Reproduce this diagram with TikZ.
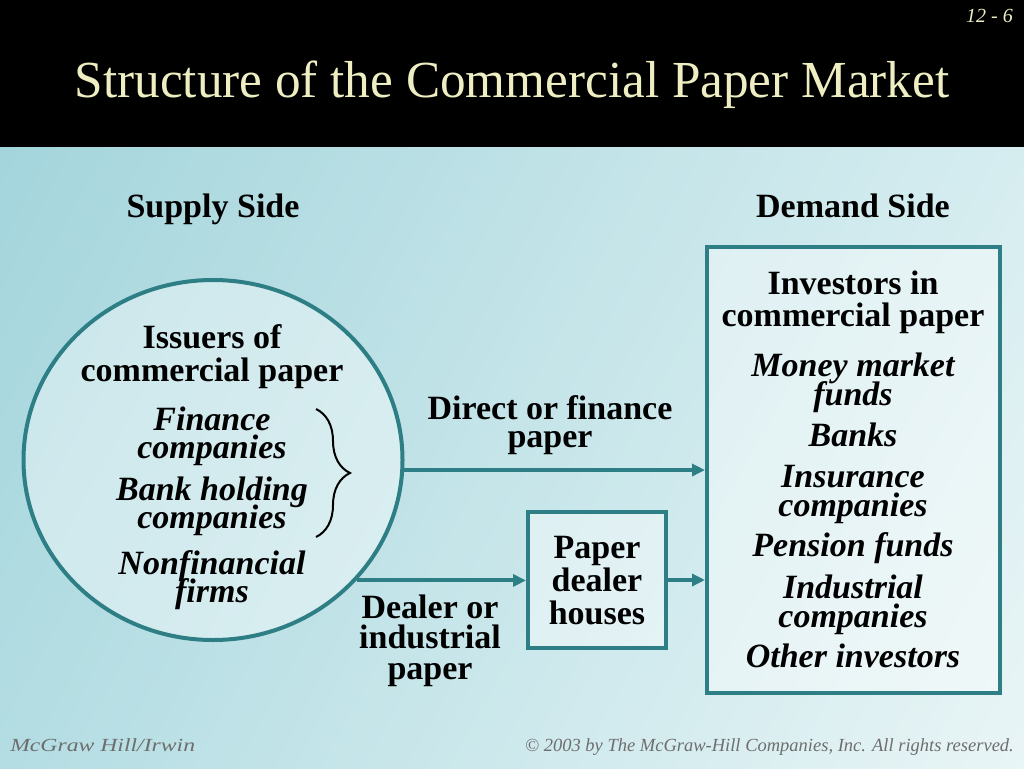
\documentclass[tikz,border=0pt]{standalone}
\usepackage{fontspec}
\setmainfont{Liberation Serif}
\usetikzlibrary{shapes.geometric,arrows.meta,decorations.pathreplacing,shadings}
\definecolor{rimteal}{HTML}{2E7E86}
\definecolor{titlecol}{HTML}{EEEEC2}
\definecolor{bgA}{HTML}{A4D5DC}
\definecolor{bgB}{HTML}{B3DDE3}
\definecolor{bgC}{HTML}{D6EDF0}
\definecolor{bgD}{HTML}{E9F5F6}
\definecolor{footcol}{HTML}{6E6E6E}
\newcommand{\slidefont}[1]{\fontsize{34}{#1}\selectfont\lineskiplimit=-50pt\bfseries}

\begin{document}
\begin{tikzpicture}[x=1pt,y=-1pt,
	rim/.style={draw=rimteal,line width=4pt,fill=white,fill opacity=0.4,draw opacity=1},
	flow/.style={draw=rimteal,line width=4pt,-{Triangle[length=13pt,width=12pt]}},
	head/.style={anchor=base,align=center,inner sep=0pt,font=\slidefont{#1}},
	head/.default=33,
	kind/.style={anchor=base,align=center,inner sep=0pt,font=\slidefont{#1}\itshape},
	kind/.default=27.5,
	foot/.style={anchor=base,inner sep=0pt,text=footcol,font=\fontsize{18.5}{18.5}\selectfont\itshape}]
	\useasboundingbox (0,0) rectangle (1024,768);
	\shade[upper left=bgA,lower left=bgB,upper right=bgC,lower right=bgD] (0,147) rectangle (1024,768);
	\fill[black] (0,0) rectangle (1024,147);
	\node[anchor=base,inner sep=0pt,text=titlecol,font=\fontsize{52}{52}\selectfont,xscale=0.985,transform shape] (title) at (512,97) {Structure of the Commercial Paper Market};
	\node[anchor=base east,inner sep=0pt,text=titlecol,font=\fontsize{20}{20}\selectfont\itshape] (slideno) at (1013,23) {12 - 6};

	\node[rim,ellipse,minimum width=379pt,minimum height=360pt] (issuers) at (213,460) {};
	\node[rim,rectangle,minimum width=293pt,minimum height=446pt] (investors) at (853.5,470) {};
	\node[rim,rectangle,minimum width=138pt,minimum height=136pt] (dealer) at (597,580) {};

	\node[head] (supply) at (213,217) {Supply Side};
	\node[head] (demand) at (853,217) {Demand Side};

	\node[head] (isshead) at (212,381) {Issuers of\\commercial paper};
	\node[kind] (fin) at (212,458) {Finance\\companies};
	\node[kind] (bhc) at (212,528) {Bank holding\\companies};
	\node[kind] (nonf) at (212,602) {Nonfinancial\\firms};

	\node[head=28] (direct) at (550,447) {Direct or finance\\paper};
	\node[head] (pdh) at (597,624) {Paper\\dealer\\houses};
	\node[head=30.5] (ind) at (430,679) {Dealer or\\industrial\\paper};

	\node[head=32] (invhead) at (853,326) {Investors in\\commercial paper};
	\node[kind=28.5] (mmf) at (853,405) {Money market\\funds};
	\node[kind] (banks) at (853,446) {Banks};
	\node[kind=29] (ins) at (853,516) {Insurance\\companies};
	\node[kind] (pens) at (853,556) {Pension funds};
	\node[kind=29] (indc) at (853,627) {Industrial\\companies};
	\node[kind] (other) at (853,667) {Other investors};

	\draw[line width=2pt,decorate,decoration={brace,amplitude=34pt}] (316,409) -- (316,537);

	\draw[flow] (issuers.-3) -- (issuers.-3 -| investors.west);
	\draw[flow] (issuers.-40) -- (issuers.-40 -| dealer.west);
	\draw[flow] (dealer.east) -- (dealer.east -| investors.west);

	\node[foot,anchor=base west,xscale=1.28,transform shape] (publisher) at (10,751) {McGraw Hill/Irwin};
	\node[foot,anchor=base east] (rights) at (1014,751) {© 2003 by The McGraw-Hill Companies, Inc. All rights reserved.};
\end{tikzpicture}
\end{document}
